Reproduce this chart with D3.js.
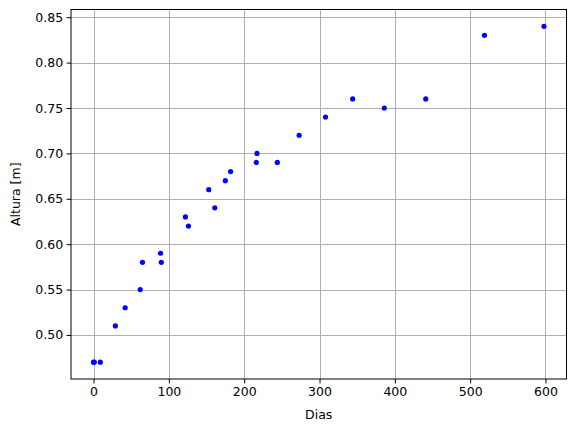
<!DOCTYPE html>
<html>
<head>
<meta charset="utf-8">
<script src="https://cdn.jsdelivr.net/npm/d3@7"></script>
<style>
  html, body { margin: 0; padding: 0; background: #fff; }
  svg { display: block; }
  text { font-family: "DejaVu Sans", sans-serif; }
</style>
</head>
<body>
<svg id="chart" width="576" height="432"></svg>
<script>
const dias   = [0, 1, 9, 29, 42, 62, 65, 89, 90, 122, 126, 153, 161, 175, 182, 216, 217, 244, 273, 308, 344, 386, 441, 519, 598];
const altura = [0.47, 0.47, 0.47, 0.51, 0.53, 0.55, 0.58, 0.59, 0.58, 0.63, 0.62, 0.66, 0.64, 0.67, 0.68, 0.69, 0.70, 0.69, 0.72, 0.74, 0.76, 0.75, 0.76, 0.83, 0.84];
const xTicks = [0, 100, 200, 300, 400, 500, 600];
const yTicks = [0.50, 0.55, 0.60, 0.65, 0.70, 0.75, 0.80, 0.85];
const xLabel = "Dias";
const yLabel = "Altura [m]";

const svg = d3.select("#chart");
const pL = 71, pR = 566.5, pT = 9.5, pB = 379;

const xmin = d3.min(dias), xmax = d3.max(dias);
const ymin = d3.min(altura), ymax = d3.max(altura);
const xm = (xmax - xmin) * 0.05, ym = (ymax - ymin) * 0.05;

const x = d3.scaleLinear().domain([xmin - xm, xmax + xm]).range([pL, pR]);
const y = d3.scaleLinear().domain([ymin - ym, ymax + ym]).range([pB, pT]);

// grid
const g = svg.append("g");
g.selectAll(".gx").data(xTicks).enter().append("line")
  .attr("x1", d => Math.round(x(d)) + 0.5).attr("x2", d => Math.round(x(d)) + 0.5)
  .attr("y1", pT).attr("y2", pB)
  .attr("stroke", "#b0b0b0").attr("stroke-width", 1);
g.selectAll(".gy").data(yTicks).enter().append("line")
  .attr("y1", d => Math.round(y(d)) + 0.5).attr("y2", d => Math.round(y(d)) + 0.5)
  .attr("x1", pL).attr("x2", pR)
  .attr("stroke", "#b0b0b0").attr("stroke-width", 1);

// points
svg.append("g").selectAll("circle").data(dias).enter().append("circle")
  .attr("cx", (d, i) => x(d))
  .attr("cy", (d, i) => y(altura[i]))
  .attr("r", 2.6)
  .attr("fill", "#0000ff");

// axes
const xAxis = d3.axisBottom(x).tickValues(xTicks).tickFormat(d3.format("d")).tickSize(4.4).tickPadding(3.5);
const yAxis = d3.axisLeft(y).tickValues(yTicks).tickFormat(d3.format(".2f")).tickSize(4.4).tickPadding(3.5);

const gx = svg.append("g").attr("transform", `translate(0,${pB})`).call(xAxis);
const gy = svg.append("g").attr("transform", `translate(${pL},0)`).call(yAxis);
[gx, gy].forEach(a => {
  a.select(".domain").remove();
  a.selectAll("line").attr("stroke", "#000").attr("stroke-width", 1);
  a.selectAll("text").attr("font-size", "12.5px").attr("fill", "#000")
    .attr("font-family", "DejaVu Sans, sans-serif");
});

// frame
svg.append("rect")
  .attr("x", pL).attr("y", pT)
  .attr("width", pR - pL).attr("height", pB - pT)
  .attr("fill", "none").attr("stroke", "#000").attr("stroke-width", 1);

// labels
svg.append("text")
  .attr("x", (pL + pR) / 2).attr("y", 419)
  .attr("text-anchor", "middle").attr("font-size", "12.5px").text(xLabel);
svg.append("text")
  .attr("transform", `translate(20,${(pT + pB) / 2}) rotate(-90)`)
  .attr("text-anchor", "middle").attr("font-size", "12.5px").text(yLabel);
</script>
</body>
</html>
